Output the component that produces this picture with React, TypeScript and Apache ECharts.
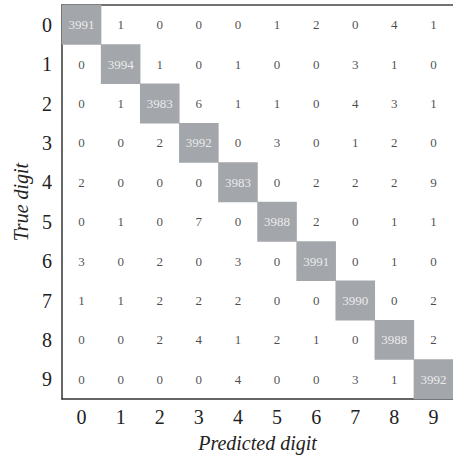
import React, { useEffect, useRef } from "react";
import * as echarts from "echarts";

const digits = ["0", "1", "2", "3", "4", "5", "6", "7", "8", "9"];
const row0 = [3991, 1, 0, 0, 0, 1, 2, 0, 4, 1];
const row1 = [0, 3994, 1, 0, 1, 0, 0, 3, 1, 0];
const row2 = [0, 1, 3983, 6, 1, 1, 0, 4, 3, 1];
const row3 = [0, 0, 2, 3992, 0, 3, 0, 1, 2, 0];
const row4 = [2, 0, 0, 0, 3983, 0, 2, 2, 2, 9];
const row5 = [0, 1, 0, 7, 0, 3988, 2, 0, 1, 1];
const row6 = [3, 0, 2, 0, 3, 0, 3991, 0, 1, 0];
const row7 = [1, 1, 2, 2, 2, 0, 0, 3990, 0, 2];
const row8 = [0, 0, 2, 4, 1, 2, 1, 0, 3988, 2];
const row9 = [0, 0, 0, 0, 4, 0, 0, 3, 1, 3992];
const matrix = [row0, row1, row2, row3, row4, row5, row6, row7, row8, row9];

const FONT = "'Liberation Serif', 'DejaVu Serif', serif";
const GRAY = "#a3a6ab";

export default function App() {
  const ref = useRef<HTMLDivElement>(null);
  useEffect(() => {
    if (!ref.current) return;
    const chart = echarts.init(ref.current, null, { renderer: "svg" });
    const data: any[] = [];
    const labels: any[] = [];
    matrix.forEach((row, i) => {
      row.forEach((v, j) => {
        const diag = i === j;
        data.push([j, i, v, diag ? 1 : 0]);
        labels.push({
          value: [j, i, v],
          label: { color: diag ? "#ffffff" : "#1a1a1a" },
        });
      });
    });
    chart.setOption({
      animation: false,
      backgroundColor: "#ffffff",
      grid: { left: 62, top: 5, right: 0, bottom: 61, containLabel: false },
      visualMap: {
        show: false,
        type: "piecewise",
        dimension: 3,
        seriesIndex: 0,
        pieces: [
          { value: 1, color: GRAY },
          { value: 0, color: "rgba(255,255,255,0)" },
        ],
      },
      xAxis: [
        {
          type: "category",
          data: digits,
          position: "bottom",
          name: "Predicted digit",
          nameLocation: "middle",
          nameGap: 34,
          nameTextStyle: { fontFamily: FONT, fontStyle: "italic", fontSize: 20, color: "#222" },
          axisLine: { show: true, lineStyle: { color: "#333", width: 1.5 } },
          axisTick: { show: false },
          axisLabel: { fontFamily: FONT, fontSize: 20, color: "#222", margin: 8 },
          splitLine: { show: false },
        },
        {
          type: "category",
          data: digits,
          position: "top",
          axisLine: { show: true, lineStyle: { color: "#444", width: 1.5 } },
          axisTick: { show: false },
          axisLabel: { show: false },
        },
      ],
      yAxis: {
        type: "category",
        data: digits,
        inverse: true,
        name: "True digit",
        nameLocation: "middle",
        nameGap: 29,
        nameRotate: 90,
        nameTextStyle: { fontFamily: FONT, fontStyle: "italic", fontSize: 20, color: "#222" },
        axisLine: { show: true, lineStyle: { color: "#333", width: 1.5 } },
        axisTick: { show: false },
        axisLabel: { fontFamily: FONT, fontSize: 20, color: "#222", margin: 10 },
        splitLine: { show: false },
      },
      series: [
        {
          type: "heatmap",
          xAxisIndex: 0,
          data,
          label: { show: false },
          emphasis: { disabled: true },
        },
        {
          type: "scatter",
          xAxisIndex: 0,
          data: labels,
          symbolSize: 1,
          itemStyle: { color: "rgba(0,0,0,0)" },
          label: {
            show: true,
            position: "inside",
            fontFamily: FONT,
            fontSize: 13,
            formatter: (p: any) => String(p.value[2]),
          },
          emphasis: { disabled: true },
          silent: true,
        },
      ],
    });
    return () => chart.dispose();
  }, []);
  return (
    <div
      ref={ref}
      style={{ position: "fixed", left: 0, top: 0, width: 453, height: 460 }}
    />
  );
}
